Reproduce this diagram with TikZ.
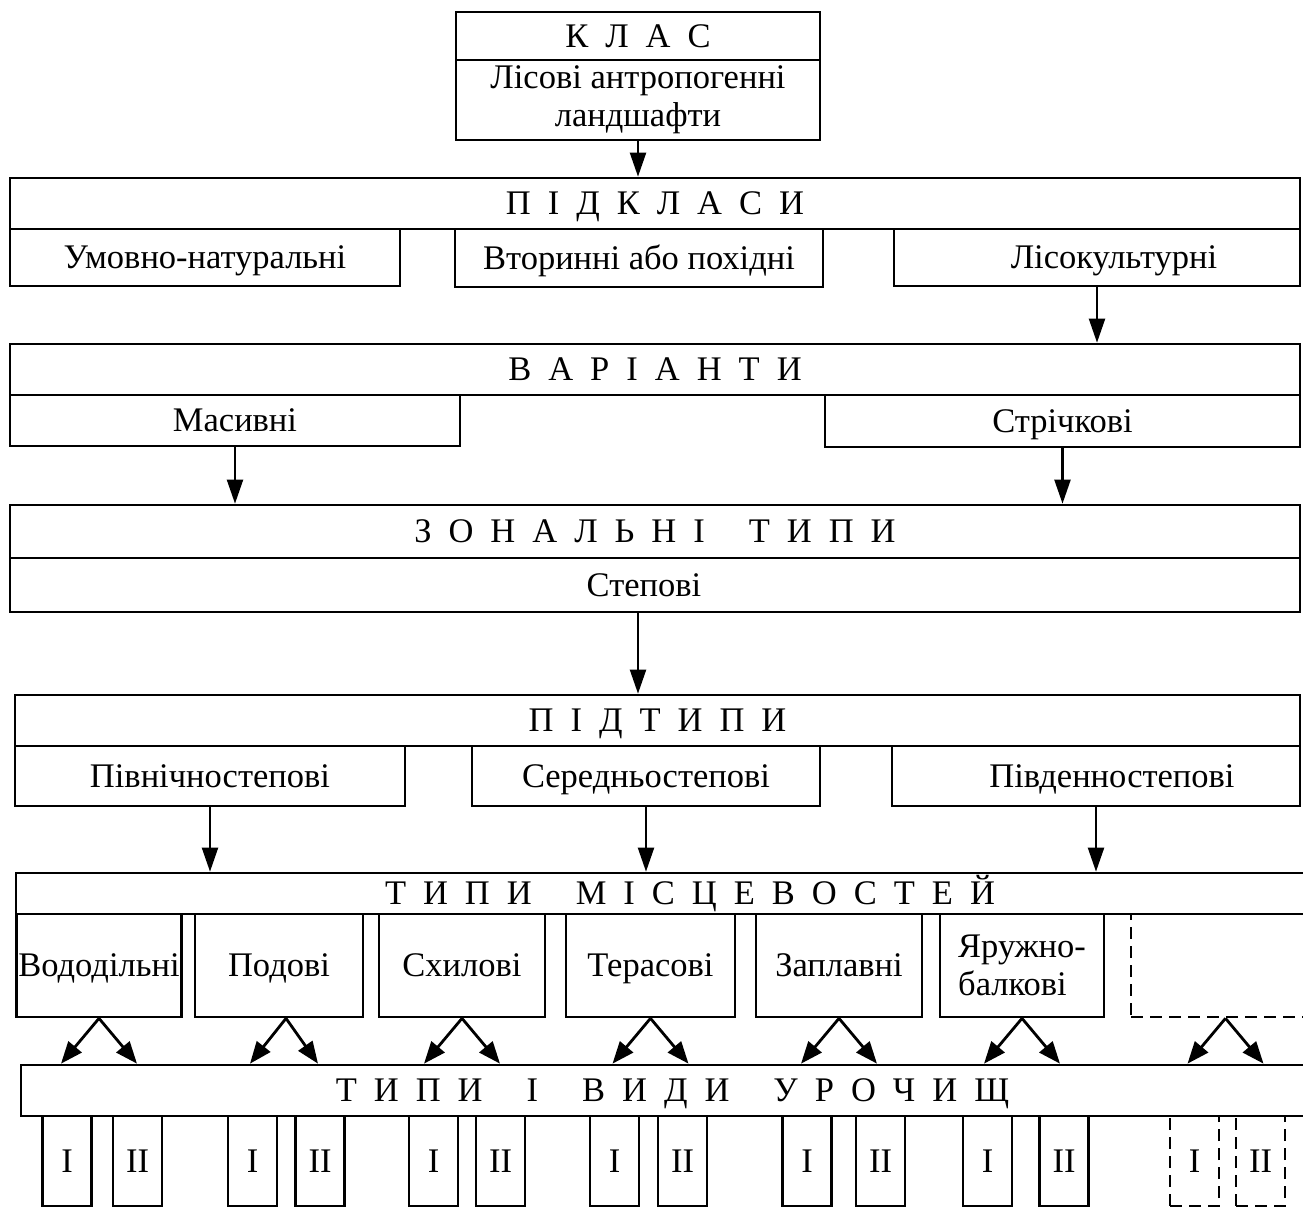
\documentclass[tikz,border=0pt]{standalone}
\usepackage{fontspec}
\setmainfont{Liberation Serif}
\usetikzlibrary{arrows.meta,calc}
\newcommand\wg{\hspace{27pt}}
\newcommand\bfsz{\fontsize{34.5}{38}\selectfont}
\begin{document}
\begin{tikzpicture}[x=1pt,y=-1pt,
  box/.style={draw, line width=2.7pt, inner sep=0pt, font=\bfsz, align=center},
  one/.style={text height=22.8pt, text depth=0pt},
  hd/.style={box, one, font={\bfsz\spaceskip=17pt\relax}},
  dbox/.style={box, dash pattern=on 12pt off 7pt},
  arr/.style={line width=2.2pt, -{Triangle[length=24pt,width=16pt]}},
  darr/.style={line width=2.8pt, -{Triangle[length=22pt,width=17pt]}},
  lo/.style={box, one, minimum width=49pt, minimum height=90pt},
  dlo/.style={dbox, one, minimum width=49pt, minimum height=90pt},
  mid/.style={box, one, minimum height=103pt},
]
\useasboundingbox (0,0) rectangle (1303,1208);
\fill[white] (0,0) rectangle (1303,1208);

% class
\node[hd, minimum width=364pt, minimum height=48pt] (klas) at (638,36) {К Л А С};
\node[box, minimum width=364pt, minimum height=80pt] (klasn) at (638,100) {Лісові антропогенні\\ландшафти};

% subclasses
\node[hd, minimum width=1290pt, minimum height=51pt] (pidkl) at (655,203.5) {П І Д К Л А С И};
\node[box, one, minimum width=390pt, minimum height=57pt] (umov) at (205,257.5) {Умовно-натуральні};
\node[box, one, minimum width=368pt, minimum height=58pt] (vtor) at (639,258) {Вторинні або похідні};
\node[box, one, minimum width=406pt, minimum height=57pt] (lisk) at (1097,257.5) {\hspace*{34pt}Лісокультурні};

% variants
\node[hd, minimum width=1290pt, minimum height=51pt] (var) at (655,369.5) {В А Р І А Н Т И};
\node[box, one, minimum width=450pt, minimum height=51pt] (mas) at (235,420.5) {Масивні};
\node[box, one, minimum width=475pt, minimum height=52pt] (stri) at (1062.5,421) {Стрічкові};

% zonal types
\node[hd, minimum width=1290pt, minimum height=53pt] (zon) at (655,531.5) {З О Н А Л Ь Н І \wg Т И П И};
\node[box, one, minimum width=1290pt, minimum height=54pt] (step) at (655,585) {Степові\hspace*{22pt}};

% subtypes
\node[hd, minimum width=1285pt, minimum height=51pt] (pidt) at (657.5,720.5) {П І Д Т И П И};
\node[box, one, minimum width=390pt, minimum height=60pt] (pivn) at (210,776) {Північностепові};
\node[box, one, minimum width=348pt, minimum height=60pt] (ser) at (646,776) {Середньостепові};
\node[box, one, minimum width=408pt, minimum height=60pt] (pivd) at (1096,776) {\hspace*{32pt}Південностепові};

% locality types
\node[hd, minimum width=1294pt, minimum height=41pt] (mis) at (663,893.5) {\hspace*{54pt}Т И П И \wg М І С Ц Е В О С Т Е Й};
\node[mid, minimum width=165.5pt] (vodo) at (99,965.5) {Вододільні};
\node[mid, minimum width=168pt] (pod) at (279,965.5) {Подові};
\node[mid, minimum width=166pt] (skh) at (462,965.5) {Схилові};
\node[mid, minimum width=169pt] (ter) at (650.5,965.5) {Терасові};
\node[mid, minimum width=166pt] (zap) at (839,965.5) {Заплавні};
\node[box, minimum width=164pt, minimum height=103pt, align=left] (yar) at (1022,965.5) {Яружно-\\балкові};
\node[dbox, minimum width=189pt, minimum height=103pt] (dsh) at (1225.5,965.5) {};

% tracts
\node[hd, minimum width=1289pt, minimum height=51pt] (uro) at (665.5,1090.5) {\hspace*{14pt}Т И П И \wg І \wg В И Д И \wg У Р О Ч И Щ};

\node[lo] (a1) at (67,1161) {I};
\node[lo] (a2) at (137.5,1161) {II};
\node[lo] (b1) at (252.5,1161) {I};
\node[lo] (b2) at (320,1161) {II};
\node[lo] (c1) at (433.5,1161) {I};
\node[lo] (c2) at (500.5,1161) {II};
\node[lo] (d1) at (614.5,1161) {I};
\node[lo] (d2) at (682.5,1161) {II};
\node[lo] (e1) at (807,1161) {I};
\node[lo] (e2) at (880.5,1161) {II};
\node[lo] (f1) at (987.5,1161) {I};
\node[lo] (f2) at (1064,1161) {II};
\node[dlo] (g1) at (1194.5,1161) {I};
\node[dlo] (g2) at (1260.5,1161) {II};

% connectors
\draw[arr] (klasn.south) -- (klasn.south |- pidkl.north);
\draw[arr] (lisk.south) -- (lisk.south |- var.north);
\draw[arr] (mas.south) -- (mas.south |- zon.north);
\draw[arr] (stri.south) -- (stri.south |- zon.north);
\coordinate (stepout) at ($(step.south)+(-17,0)$);
\draw[arr] (stepout) -- (stepout |- pidt.north);
\draw[arr] (pivn.south) -- (pivn.south |- mis.north);
\draw[arr] (ser.south) -- (ser.south |- mis.north);
\draw[arr] (pivd.south) -- (pivd.south |- mis.north);

\foreach \n in {vodo,skh,ter,zap,yar,dsh}{
  \draw[darr] (\n.south) -- ($(\n.south |- uro.north)+(-38,0)$);
  \draw[darr] (\n.south) -- ($(\n.south |- uro.north)+(38,0)$);
}
\coordinate (podout) at ($(pod.south)+(7,0)$);
\draw[darr] (podout) -- ($(podout |- uro.north)+(-36,0)$);
\draw[darr] (podout) -- ($(podout |- uro.north)+(32,0)$);
\end{tikzpicture}
\end{document}
